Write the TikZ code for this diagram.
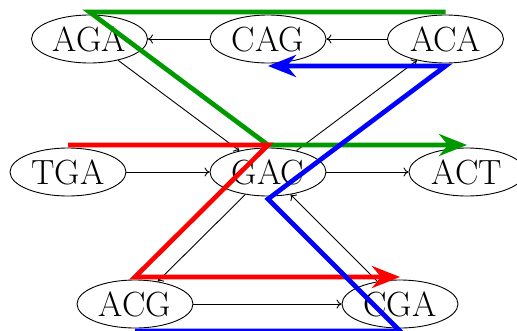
\documentclass[tikz,border=0pt]{standalone}
\usetikzlibrary{shapes.geometric,arrows.meta,calc}
\begin{document}
\begin{tikzpicture}[x=1pt,y=-1pt,
  kmer/.style={ellipse,draw,line width=0.9pt,minimum width=116pt,minimum height=48pt,inner sep=0pt,font=\fontsize{35}{42}\selectfont},
  edge/.style={-{To[length=5pt,width=9pt]},line width=0.9pt},
  walk/.style={line width=4.7pt,-{Stealth[length=28pt,width=22pt,inset=9pt]}}]
\clip (0,0) rectangle (517,330);
\node[kmer] (AGA) at (89.5,39) {AGA};
\node[kmer] (CAG) at (268,39) {CAG};
\node[kmer] (ACA) at (445.5,39) {ACA};
\node[kmer] (TGA) at (68,172) {TGA};
\node[kmer] (GAC) at (268,172) {GAC};
\node[kmer] (ACT) at (467,172) {ACT};
\node[kmer] (ACG) at (135,304) {ACG};
\node[kmer] (CGA) at (400,304) {CGA};
\draw[edge] (CAG) -- (AGA);
\draw[edge] (ACA) -- (CAG);
\draw[edge] (AGA) -- (GAC);
\draw[edge] (GAC) -- (ACA);
\draw[edge] (TGA) -- (GAC);
\draw[edge] (GAC) -- (ACT);
\draw[edge] (GAC) -- (ACG);
\draw[edge] (CGA) -- (GAC);
\draw[edge] (ACG) -- (CGA);
\draw[walk,green!60!black] ($(ACA)+(0,-27)$) -- ($(AGA)+(0,-27)$) -- ($(GAC)+(0,-27)$) -- ($(ACT)+(0,-27)$);
\draw[walk,red] ($(TGA)+(0,-27)$) -- ($(GAC)+(0,-27)$) -- ($(ACG)+(0,-27)$) -- ($(CGA)+(0,-27)$);
\draw[walk,blue] ($(ACG)+(0,27)$) -- ($(CGA)+(0,27)$) -- ($(GAC)+(0,27)$) -- ($(ACA)+(0,27)$) -- ($(CAG)+(0,27)$);
\end{tikzpicture}
\end{document}
